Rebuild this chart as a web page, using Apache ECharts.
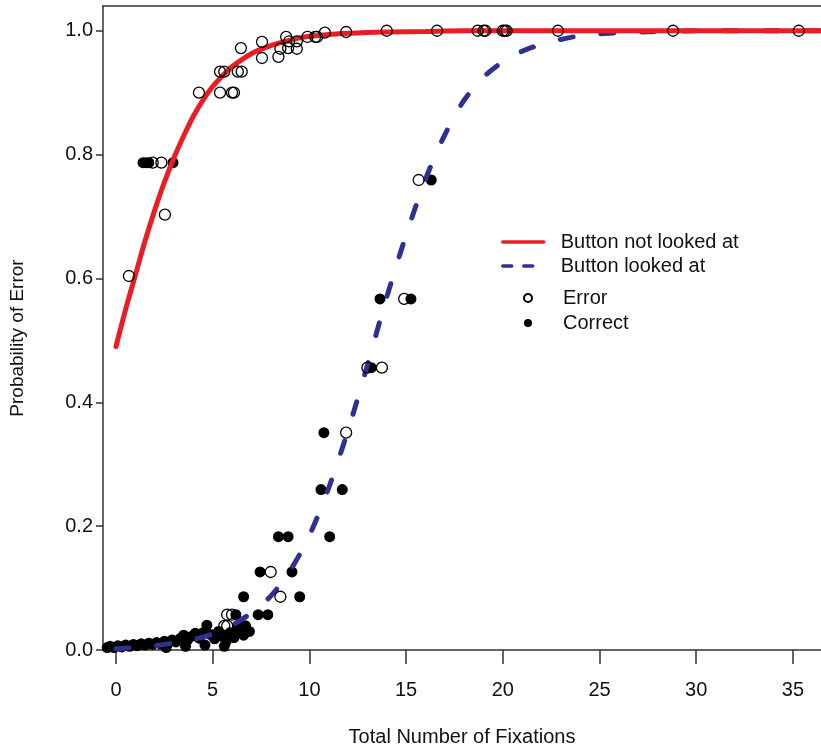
<!DOCTYPE html>
<html lang="en">
<head>
    <meta charset="UTF-8">
    <script type="text/javascript" src="https://cdn.jsdelivr.net/npm/echarts@6.0.0/dist/echarts.min.js"></script>
    <style>
        html, body {
            margin: 0;
            overflow: hidden;
            background: #fff;
        }
        #viewport {
            position: absolute;
            left: 0px;
            top: 0px;
            width: 821px;
            height: 750px;
        }
    </style>
</head>
<body>
<div id="viewport"></div>
<script>
    var xTicks = [0, 5, 10, 15, 20, 25, 30, 35];
    var yTicks = [0, 0.2, 0.4, 0.6, 0.8, 1.0];

    // fitted curves
    var notLookedCurve = [
        [0, 0.49], [0.5, 0.55], [1, 0.605], [1.5, 0.66], [2, 0.71], [2.5, 0.755],
        [3, 0.795], [3.5, 0.83], [4, 0.862], [4.5, 0.888], [5, 0.91], [5.5, 0.927],
        [6, 0.942], [7, 0.963], [8, 0.976], [9, 0.985], [10, 0.991], [11, 0.994],
        [12, 0.996], [14, 0.998], [16, 0.999], [18, 1], [36.45, 1]
    ];
    var lookedCurve = [
        [0, 0.002], [2, 0.007], [4, 0.017], [5, 0.026], [6, 0.04], [7, 0.06],
        [8, 0.087], [9, 0.128], [10, 0.185], [11, 0.262], [12, 0.355], [13, 0.46],
        [14, 0.57], [15, 0.67], [16, 0.76], [17, 0.832], [18, 0.888], [19, 0.925],
        [20, 0.95], [21, 0.967], [22, 0.978], [23, 0.986], [24, 0.992], [25, 0.995],
        [27, 0.998], [30, 1], [36.45, 1]
    ];

    // observed points
    var errorPts = [
        [0.67, 0.604], [1.9, 0.787], [2.35, 0.787], [2.53, 0.703],
        [4.29, 0.90], [5.38, 0.90], [6.0, 0.90], [6.1, 0.90],
        [5.38, 0.934], [5.6, 0.934], [6.3, 0.934], [6.5, 0.934],
        [6.46, 0.972], [7.55, 0.982], [7.55, 0.956], [8.4, 0.958],
        [8.8, 0.99], [8.5, 0.971], [8.9, 0.972], [9.35, 0.971],
        [8.95, 0.983], [9.35, 0.983], [9.9, 0.99], [10.3, 0.99], [10.4, 0.99],
        [10.8, 0.997], [11.9, 0.998], [14.0, 1.0], [16.6, 1.0], [18.7, 1.0],
        [19.0, 1.0], [19.1, 1.0], [20.0, 1.0], [20.1, 1.0], [20.2, 1.0],
        [22.85, 1.0], [28.8, 1.0], [35.3, 1.0],
        [15.65, 0.759], [14.9, 0.567], [13.0, 0.456], [13.75, 0.456],
        [11.9, 0.351], [8.0, 0.126], [8.5, 0.086],
        [5.75, 0.057], [6.0, 0.057], [5.6, 0.039], [5.75, 0.039]
    ];
    var correctPts = [
        [1.4, 0.787], [1.55, 0.787], [1.7, 0.787], [2.95, 0.787],
        [16.3, 0.759], [13.65, 0.567], [15.25, 0.567], [13.2, 0.456],
        [10.75, 0.351], [10.6, 0.259], [11.7, 0.259],
        [8.4, 0.183], [8.9, 0.183], [11.05, 0.183],
        [7.45, 0.126], [9.1, 0.126], [6.6, 0.086], [9.5, 0.086],
        [7.35, 0.057], [7.85, 0.057], [6.2, 0.057],
        [6.3, 0.039], [6.7, 0.039], [4.7, 0.04],
        [-0.45, 0.004], [-0.3, 0.006], [-0.1, 0.004], [0.1, 0.007], [0.3, 0.005],
        [0.5, 0.008], [0.7, 0.006], [0.9, 0.009], [1.1, 0.007], [1.3, 0.01],
        [1.5, 0.008], [1.7, 0.011], [1.9, 0.009], [2.1, 0.012], [2.3, 0.01],
        [2.5, 0.014], [2.7, 0.011], [2.9, 0.016], [3.1, 0.013], [3.3, 0.018],
        [3.5, 0.024], [3.7, 0.016], [3.9, 0.022], [4.1, 0.027], [4.3, 0.019],
        [4.5, 0.028], [4.9, 0.025], [5.1, 0.018], [5.3, 0.03], [5.5, 0.022],
        [5.7, 0.014], [5.9, 0.028], [6.1, 0.02], [6.3, 0.03], [6.6, 0.024],
        [6.9, 0.03], [3.6, 0.006], [4.6, 0.008], [5.6, 0.006], [2.6, 0.004]
    ];

    var RED = '#ec1c24';
    var BLUE = '#2e3192';
    var FONT = 'Liberation Sans, Arial, sans-serif';

    var myChart = echarts.init(document.getElementById('viewport'));

    var hideDot = { opacity: 0 };

    var option = {
        animation: false,
        backgroundColor: '#fff',
        textStyle: { fontFamily: FONT },
        grid: { left: 103, right: 0, top: 6, bottom: 100, outerBoundsMode: 'none' },
        legend: [{
            orient: 'vertical',
            left: 501,
            top: 232,
            padding: 0,
            itemWidth: 41,
            itemHeight: 14,
            itemGap: 4,
            textStyle: { fontSize: 20, color: '#111', lineHeight: 20, padding: [0, 0, 0, 12] },
            data: [
                { name: 'Button not looked at', itemStyle: hideDot, lineStyle: { width: 3.5, type: 'solid' } },
                { name: 'Button looked at', itemStyle: hideDot, lineStyle: { width: 3.5, type: [9, 12] } }
            ]
        }, {
            orient: 'vertical',
            left: 523,
            top: 288,
            padding: 0,
            itemWidth: 52,
            itemHeight: 8,
            itemGap: 5,
            textStyle: { fontSize: 20, color: '#111', lineHeight: 20, padding: [0, 0, 0, 4] },
            data: [
                { name: 'Error', icon: 'circle' },
                { name: 'Correct', icon: 'circle' }
            ]
        }],
        xAxis: [{
            type: 'value',
            min: -0.67,
            max: 36.45,
            name: 'Total Number of Fixations',
            nameLocation: 'middle',
            nameGap: 77,
            nameTextStyle: { fontSize: 20, color: '#111' },
            axisLine: { show: true, onZero: false, lineStyle: { color: '#333', width: 1.5 } },
            axisTick: { show: true, length: 14, customValues: xTicks, lineStyle: { color: '#333', width: 1.5 } },
            axisLabel: { customValues: xTicks, margin: 30, fontSize: 20, color: '#111' },
            splitLine: { show: false }
        }, {
            type: 'value',
            position: 'top',
            min: -0.67,
            max: 36.45,
            axisLine: { show: true, onZero: false, lineStyle: { color: '#333', width: 1.5 } },
            axisTick: { show: false },
            axisLabel: { show: false },
            splitLine: { show: false }
        }],
        yAxis: {
            type: 'value',
            min: 0,
            max: 1.04,
            name: 'Probability of Error',
            nameLocation: 'middle',
            nameRotate: 90,
            nameGap: 76,
            nameTextStyle: { fontSize: 19, color: '#111', padding: [0, 20, 0, 0] },
            axisLine: { show: true, onZero: false, lineStyle: { color: '#333', width: 1.5 } },
            axisTick: { show: true, length: 7, customValues: yTicks, lineStyle: { color: '#333', width: 1.5 } },
            axisLabel: {
                customValues: yTicks, margin: 10, fontSize: 20, color: '#111',
                formatter: function (v) { return v.toFixed(1); }
            },
            splitLine: { show: false }
        },
        series: [{
            name: 'Correct',
            type: 'scatter',
            data: correctPts,
            symbol: 'circle',
            symbolSize: 11,
            itemStyle: { color: '#000', opacity: 1 },
            z: 2
        }, {
            name: 'Button looked at',
            type: 'line',
            data: lookedCurve,
            symbol: 'none',
            smooth: 0.3,
            lineStyle: { color: BLUE, width: 5, type: [13, 28], cap: 'round' },
            itemStyle: { color: BLUE },
            z: 3
        }, {
            name: 'Button not looked at',
            type: 'line',
            data: notLookedCurve,
            symbol: 'none',
            smooth: 0.3,
            lineStyle: { color: RED, width: 5, cap: 'round' },
            itemStyle: { color: RED },
            z: 4
        }, {
            name: 'Error',
            type: 'scatter',
            data: errorPts,
            symbol: 'circle',
            symbolSize: 11,
            itemStyle: { color: 'rgba(0,0,0,0)', borderColor: '#000', borderWidth: 1.3, opacity: 1 },
            z: 5
        }]
    };

    myChart.setOption(option);
</script>
</body>
</html>
